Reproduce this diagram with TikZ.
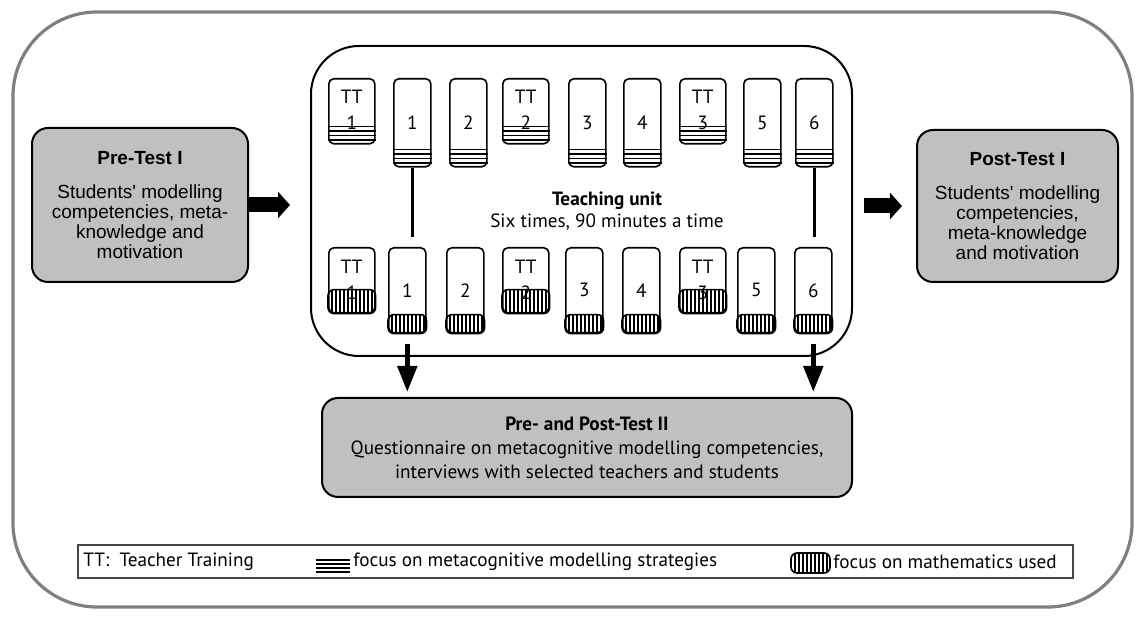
\documentclass[tikz,border=0pt]{standalone}
\usepackage{fontspec}
\setmainfont{PT Sans}
\newfontfamily\arialfont{Liberation Sans}
\usetikzlibrary{arrows.meta}

\definecolor{boxgray}{RGB}{192,192,192}
\definecolor{framegray}{RGB}{128,128,128}
\definecolor{keygray}{RGB}{70,70,70}

\tikzset{
  lesson/.style={draw, line width=0.8pt, rounded corners=2.5pt, anchor=north west, inner sep=0pt},
  testbox/.style={draw, fill=boxgray, line width=1pt, rounded corners=8pt, align=center, inner sep=0pt},
  blockarrow/.style={line width=7.5pt, -{Triangle[length=6pt,width=13pt]}},
  downarrow/.style={line width=2.5pt, -{Triangle[length=13pt,width=9.5pt]}},
  stripe/.style={line width=0.6pt},
  hatch/.style={line width=0.6pt},
}

\begin{document}
\begin{tikzpicture}[x=0.5pt, y=-0.5pt, font=\fontsize{9.6}{12}\selectfont]
  \useasboundingbox (0,0) rectangle (1137,619);
  % outer frame
  \draw[framegray, line width=1.6pt, rounded corners=42pt] (13,12) rectangle (1132,607);

  % tests
  \node[testbox, minimum width=108pt, minimum height=77pt, font=\arialfont\fontsize{9.5}{10}\selectfont] (pre) at (140,205)
    {\textbf{Pre-Test I}\\[7pt]Students' modelling\\competencies, meta-\\knowledge and\\motivation};
  \node[testbox, minimum width=100.5pt, minimum height=76pt, font=\arialfont\fontsize{9.5}{10}\selectfont] (post) at (1017.5,206)
    {\textbf{Post-Test I}\\[7pt]Students' modelling\\competencies,\\meta-knowledge\\and motivation};
  \node[testbox, minimum width=265pt, minimum height=49.5pt] (test2) at (587,447.5)
    {\textbf{Pre- and Post-Test II}\\Questionnaire on metacognitive modelling competencies,\\interviews with selected teachers and students};

  % teaching unit
  \node[draw, line width=1pt, rounded corners=24pt, anchor=north west, inner sep=0pt,
    minimum width=270.5pt, minimum height=155pt] (unit) at (310,45) {};
  \node[align=center, inner sep=0pt, font=\fontsize{9.6}{11}\selectfont] (unittext) at (607,211)
    {\textbf{Teaching unit}\\Six times, 90 minutes a time};

  % upper row: teacher training sessions
  \foreach \i/\x/\n in {1/328/1, 4/502/2, 7/679/3} {
    \node[lesson, minimum width=23pt, minimum height=32.5pt] (u\i) at (\x,78) {};
    \node[inner sep=0pt] (ttu\i) at ([yshift=-9.5pt]u\i.north) {TT};
    \node[inner sep=0pt] (nu\i) at ([yshift=-22.5pt]u\i.north) {\n};
    \foreach \d in {4.5,9,13.5,18}
      \draw[stripe] ([yshift=\d*0.5pt]u\i.south west) -- ([yshift=\d*0.5pt]u\i.south east);
  }
  % upper row: lessons
  \foreach \i/\x/\n in {2/393/1, 3/449/2, 5/568/3, 6/623/4, 8/743/5, 9/795/6} {
    \node[lesson, minimum width=18.5pt, minimum height=44pt] (u\i) at (\x,78) {};
    \node[inner sep=0pt] (nu\i) at (u\i.center) {\n};
    \foreach \d in {4.5,9,13.5,18}
      \draw[stripe] ([yshift=\d*0.5pt]u\i.south west) -- ([yshift=\d*0.5pt]u\i.south east);
  }

  % lower row: teacher training sessions
  \foreach \i/\x/\n in {1/328/1, 4/502/2, 7/679/3} {
    \node[lesson, minimum width=23pt, minimum height=32.5pt] (l\i) at (\x,247) {};
    \node[inner sep=0pt] (ttl\i) at ([yshift=-10pt]l\i.north) {TT};
    \node[inner sep=0pt] (nl\i) at ([yshift=-23pt]l\i.north) {\n};
    \begin{scope}
      \clip[rounded corners=3pt] (l\i.south west) rectangle ([yshift=12pt]l\i.south east);
      \foreach \k in {1,...,12}
        \draw[hatch] ([xshift=\k*2pt]l\i.south west) -- ++(0,-30);
    \end{scope}
    \draw[line width=0.8pt, rounded corners=3pt] (l\i.south west) rectangle ([yshift=12pt]l\i.south east);
  }
  % lower row: lessons
  \foreach \i/\x/\n in {2/388/1, 3/446/2, 5/565/3, 6/622/4, 8/737/5, 9/794/6} {
    \node[lesson, minimum width=18.5pt, minimum height=42.5pt] (l\i) at (\x,247) {};
    \node[inner sep=0pt] (nl\i) at (l\i.center) {\n};
    \begin{scope}
      \clip[rounded corners=3pt] (l\i.south west) rectangle ([yshift=9.5pt]l\i.south east);
      \foreach \k in {1,...,9}
        \draw[hatch] ([xshift=\k*2pt]l\i.south west) -- ++(0,-30);
    \end{scope}
    \draw[line width=0.8pt, rounded corners=3pt] (l\i.south west) rectangle ([yshift=9.5pt]l\i.south east);
  }

  % links between the rows
  \draw[line width=1.5pt, shorten >=5pt] (u2.south) -- (u2.south |- l2.north);
  \draw[line width=1.5pt, shorten >=5pt] (u9.south) -- (u9.south |- l9.north);

  % arrows
  \draw[blockarrow, shorten >=10pt] (pre.east) -- (pre.east -| unit.west);
  \draw[blockarrow, shorten <=5.5pt, shorten >=7pt] (unit.east |- post.west) -- (post.west);
  \draw[downarrow, shorten <=5pt, shorten >=2.5pt] (l2.south) -- (l2.south |- test2.north);
  \draw[downarrow, shorten <=5pt, shorten >=2.5pt] (l9.south) -- (l9.south |- test2.north);

  % key
  \node[draw=keygray, line width=0.6pt, minimum width=497.5pt, minimum height=16.5pt, inner sep=0pt] (key) at (575.5,561.5) {};
  \node[anchor=west, inner sep=0pt] (ttkey) at (83,562) {TT:\ \ Teacher Training};
  \foreach \y in {560,564,568,572}
    \draw[stripe] (316,\y) -- (350,\y);
  \node[anchor=west, inner sep=0pt] (stratkey) at (353,562) {focus on metacognitive modelling strategies};
  \begin{scope}
    \clip[rounded corners=3pt] (791,553) rectangle (830,573);
    \foreach \x in {795,799,...,827}
      \draw[hatch] (\x,553) -- (\x,573);
  \end{scope}
  \draw[line width=0.8pt, rounded corners=3pt] (791,553) rectangle (830,573);
  \node[anchor=west, inner sep=0pt] (mathkey) at (833,562) {focus on mathematics used};
\end{tikzpicture}
\end{document}
